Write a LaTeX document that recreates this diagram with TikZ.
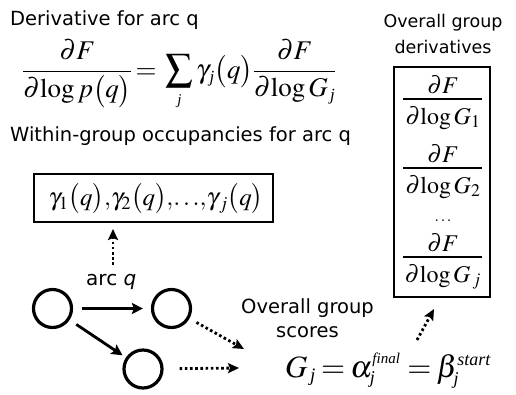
\documentclass[tikz,border=0pt]{standalone}
\usepackage{mathptmx}
\usepackage{fontspec}
\setmainfont{Liberation Serif}
\newfontfamily\lab{DejaVu Sans}
\usetikzlibrary{arrows.meta}
\newcommand{\dlog}{\partial\mathrm{log}}
\newcommand{\scr}[2]{\hbox{\fontsize{#1}{#1}\selectfont\itshape #2}}
\tikzset{
  lbl/.style={font=\lab\fontsize{19.5}{24}\selectfont, inner sep=0pt},
  lbls/.style={font=\lab\fontsize{17.5}{22}\selectfont, inner sep=0pt},
  eqn/.style={inner sep=0pt},
  fr/.style={inner sep=0pt, font=\fontsize{24}{28}\selectfont},
  fbar/.style={line width=1.1pt},
  state/.style={circle, draw, line width=3.2pt, minimum size=38pt, inner sep=0pt},
  solidarr/.style={line width=2.8pt, -{Stealth[length=11pt,width=11pt,inset=2pt]}},
  dotarr/.style={line width=2.8pt, dash pattern=on 2.6pt off 2.6pt, -{Stealth[length=11pt,width=10pt,inset=2pt]}},
  boxed/.style={draw, line width=1.3pt, inner sep=0pt}
}
\begin{document}
\begin{tikzpicture}[x=1pt,y=-1pt]
\useasboundingbox (0,0) rectangle (516,394);
% titles
\node[lbl, anchor=base west] (t1) at (10,25) {Derivative for arc q};
\node[eqn, anchor=base west] (e1) at (22,78) {\fontsize{27}{32}\selectfont$\displaystyle \frac{\partial F}{\dlog\, p\bigl(q\bigr)} \mkern2mu{=}\mkern4mu \sum_{\scr{15}{j}} \gamma_{\,\scr{17}{j}}\bigl(q\bigr)\frac{\partial F}{\dlog\mkern2mu G_{\,\scr{17}{j}}}$};
\node[lbl, anchor=base west] (t2) at (10,141) {Within-group occupancies for arc q};
\node[boxed, minimum width=239pt, minimum height=48pt] (occ) at (153.5,198) {};
\node[eqn] (occt) at (156,199) {\fontsize{25}{30}\selectfont$\gamma_1\bigl(q\bigr){,}\gamma_2\bigl(q\bigr){,}{\ldots}{,}\gamma_{\,j}\bigl(q\bigr)$};
% right box
\node[lbls, anchor=base] (t3a) at (443,27) {Overall group};
\node[lbls, anchor=base] (t3b) at (443,53) {derivatives};
\node[boxed, minimum width=96pt, minimum height=230pt] (der) at (442,182) {};
% fraction 1
\node[fr, anchor=base] (n1) at (443,93) {$\partial F$};
\node[fr, anchor=base] (d1) at (443,124) {$\dlog\mkern2mu G_1$};
\coordinate (b1l) at (403,99); \coordinate (b1r) at (482,99);
\draw[fbar] (b1l) -- (b1r);
% fraction 2
\node[fr, anchor=base] (n2) at (443,162) {$\partial F$};
\node[fr, anchor=base] (d2) at (443,193) {$\dlog\mkern2mu G_2$};
\coordinate (b2l) at (403,168); \coordinate (b2r) at (482,168);
\draw[fbar] (b2l) -- (b2r);
\node[eqn, anchor=base] (dots) at (443,221) {\fontsize{16}{20}\selectfont$\ldots$};
% fraction 3
\node[fr, anchor=base] (n3) at (443,251) {$\partial F$};
\node[fr, anchor=base] (d3) at (443,282) {$\dlog\mkern2mu G_{\,j}$};
\coordinate (b3l) at (403,257); \coordinate (b3r) at (482,257);
\draw[fbar] (b3l) -- (b3r);
% graph
\node[state] (c1) at (52.5,308.5) {};
\node[state] (c2) at (171.5,308.5) {};
\node[state] (c3) at (143,369) {};
\node[lbl, anchor=base west] (arcq) at (86,285) {\fontsize{20}{24}\selectfont arc \itshape q};
\coordinate (up) at (113,229);
\coordinate (upstart) at (113,265);
\draw[dotarr] (upstart) -- (up);
\draw[solidarr, shorten <=9pt, shorten >=8pt] (c1) -- (c2);
\draw[solidarr, shorten <=8pt, shorten >=4pt] (c1) -- (c3);
\node[lbl, anchor=base] (t4a) at (307.5,313) {Overall group};
\node[lbl, anchor=base] (t4b) at (307.5,337) {scores};
\node[eqn, anchor=base west] (ge) at (285,377) {\fontsize{31}{36}\selectfont$G_{\,\scr{19}{j}}\mkern3mu{=}\mkern3mu\alpha_{\scr{18}{j}}^{\scr{15}{final}}\mkern4mu{=}\mkern3mu\beta_{\scr{18}{j}}^{\scr{18}{start}}$};
\coordinate (gt) at (244,349);
\coordinate (gl) at (239,368);
\coordinate (gu) at (417,340);
\coordinate (du) at (434,309);
\draw[dotarr, shorten <=8pt] (c2) -- (gt);
\draw[dotarr, shorten <=16pt] (c3) -- (gl);
\draw[dotarr] (gu) -- (du);
\end{tikzpicture}
\end{document}
